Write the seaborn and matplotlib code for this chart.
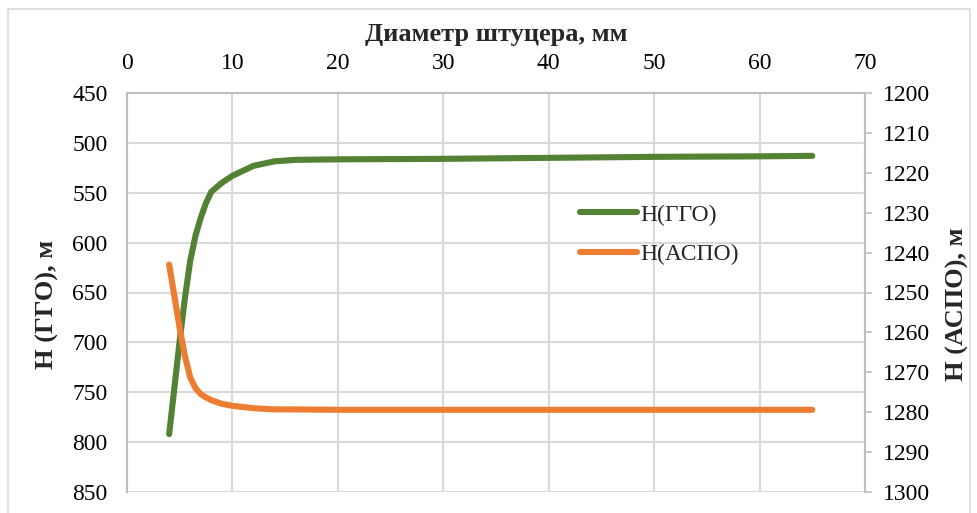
import matplotlib
matplotlib.use("Agg")
import matplotlib.pyplot as plt
import seaborn as sns
import pandas as pd
from matplotlib.patches import Rectangle

# Choke diameter, mm
diameter = [4, 4.5, 5, 5.5, 6, 6.5, 7, 7.5, 8, 9, 10, 12, 14, 16, 20, 30, 40, 50, 60, 65]
# Depth of gas-hydrate formation onset, m
h_ggo = [792, 745, 698, 655, 618, 593, 575, 560, 549, 540, 533, 523, 518.5, 517,
         516.5, 516, 515, 514, 513.5, 513]
# Depth of asphaltene-resin-paraffin deposition onset, m
h_aspo = [1243, 1251, 1259, 1266, 1271.3, 1274, 1275.5, 1276.3, 1277, 1277.9, 1278.4,
          1279, 1279.3, 1279.3, 1279.4, 1279.4, 1279.4, 1279.4, 1279.4, 1279.4]

x_ticks = [0, 10, 20, 30, 40, 50, 60, 70]
left_ticks = [450, 500, 550, 600, 650, 700, 750, 800, 850]
right_ticks = [1200, 1210, 1220, 1230, 1240, 1250, 1260, 1270, 1280, 1290, 1300]

df = pd.DataFrame({"d": diameter, "ggo": h_ggo, "aspo": h_aspo})

sns.set_theme(style="white")
plt.rcParams["font.family"] = ["Liberation Serif", "DejaVu Serif"]

GREEN = "#548235"
ORANGE = "#ED7D31"
GRID = "#d9d9d9"
AXIS = "#bfbfbf"
FS = 17

fig = plt.figure(figsize=(9.78, 5.13), dpi=100)
fig.patches.append(Rectangle((8 / 978, -0.1), (970 - 8) / 978, (513 - 9) / 513 + 0.1,
                             transform=fig.transFigure, fill=False,
                             edgecolor="#d9d9d9", linewidth=1.2))

ax = fig.add_axes([127 / 978, 21 / 513, (865 - 127) / 978, (492 - 93) / 513])
ax2 = ax.twinx()

sns.lineplot(data=df, x="d", y="ggo", ax=ax, color=GREEN, linewidth=4.4,
             solid_capstyle="round", solid_joinstyle="round", label="H(ГГО)", legend=False)
sns.lineplot(data=df, x="d", y="aspo", ax=ax2, color=ORANGE, linewidth=4.4,
             solid_capstyle="round", solid_joinstyle="round", label="H(АСПО)", legend=False)

ax.set_xlim(0, 70)
ax.set_ylim(850, 450)
ax2.set_ylim(1300, 1200)
ax.set_xticks(x_ticks)
ax.set_yticks(left_ticks)
ax2.set_yticks(right_ticks)

ax.xaxis.tick_top()
ax.xaxis.set_label_position("top")
ax.tick_params(axis="x", which="both", length=0, labelsize=FS, pad=14, colors="black")
ax.tick_params(axis="y", length=0, labelsize=FS, pad=14, colors="black")
ax2.tick_params(axis="y", length=5, width=1.2, labelsize=FS, pad=8,
                labelcolor="black", direction="out")
ax2.tick_params(axis="y", color=AXIS)

ax.grid(True, color=GRID, linewidth=1.5)
ax2.grid(False)
ax.set_axisbelow(True)

for a in (ax, ax2):
    for s in a.spines.values():
        s.set_visible(False)
ax.spines["left"].set_visible(True)
ax.spines["left"].set_color(AXIS)
ax.spines["left"].set_linewidth(1.5)
ax.spines["top"].set_visible(True)
ax.spines["top"].set_color(AXIS)
ax.spines["top"].set_linewidth(1.5)
ax2.spines["right"].set_visible(True)
ax2.spines["right"].set_color(AXIS)
ax2.spines["right"].set_linewidth(1.5)

ax.set_xlabel("Диаметр штуцера, мм", fontsize=19, fontweight="bold")
ax.xaxis.set_label_coords(0.5, (492 - 41) / 399)
ax.set_ylabel("H (ГГО), м", fontsize=19, fontweight="bold")
ax.yaxis.set_label_coords((59 - 127) / 738, 0.47)
ax2.set_ylabel("H (АСПО), м", fontsize=19, fontweight="bold")
ax2.yaxis.set_label_coords((946 - 127) / 738, 0.47)

handles = ax.get_lines()[:1] + ax2.get_lines()[:1]
ax.legend(handles, ["H(ГГО)", "H(АСПО)"], loc="upper left",
          bbox_to_anchor=(0.585, 0.775), frameon=False, fontsize=FS,
          handlelength=2.4, handletextpad=0.15, labelspacing=0.75)

fig.savefig("out.png", dpi=100)
